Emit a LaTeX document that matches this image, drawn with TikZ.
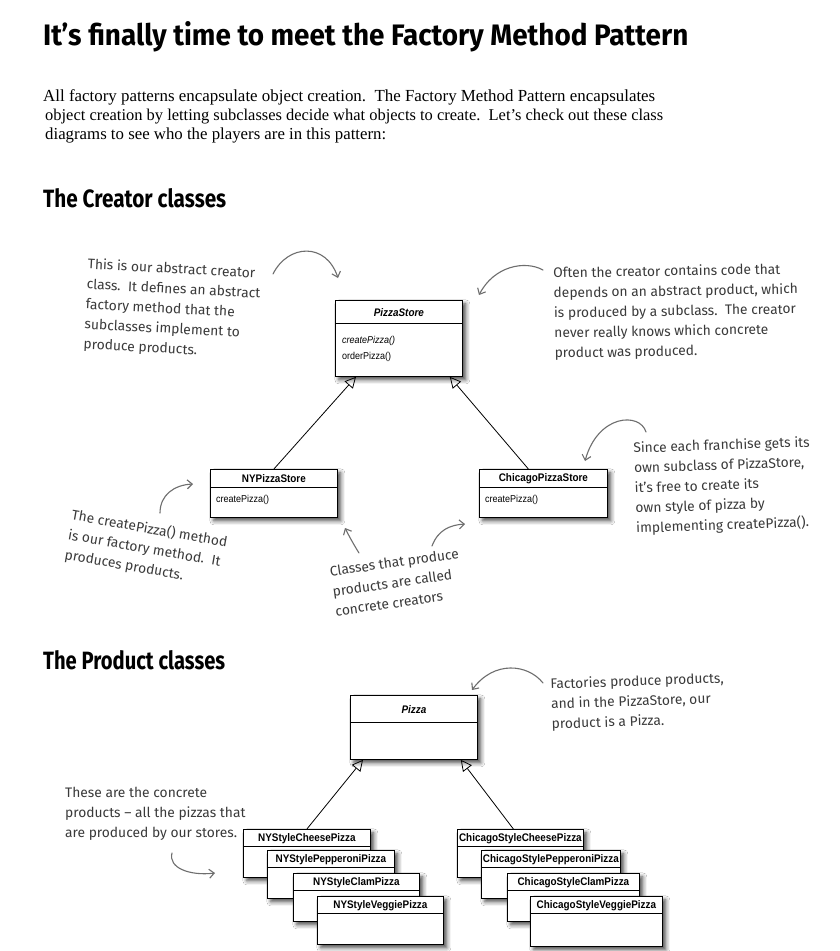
\documentclass[tikz,border=0pt]{standalone}
\usepackage{fontspec}
\setmainfont{Liberation Serif}
\newfontfamily\umlfont[FakeStretch=0.9]{Liberation Sans}
\newfontfamily\handfont{Fira Sans}
\newfontfamily\headfont{Fira Sans}
\usetikzlibrary{arrows.meta,shadows.blur,calc}
\definecolor{notecol}{HTML}{3A3A3A}
\definecolor{arrowcol}{HTML}{6E6E6E}
\tikzset{
  classbox/.style={draw=black, line width=0.8pt, fill=white, inner sep=0pt, anchor=north west,
     blur shadow={shadow xshift=3.5pt, shadow yshift=-3.5pt, shadow blur radius=4pt, shadow opacity=70}},
  sepline/.style={line width=0.7pt},
  cname/.style={font=\umlfont\bfseries\fontsize{11}{13}\selectfont, inner sep=0pt},
  cnameit/.style={font=\umlfont\bfseries\itshape\fontsize{11}{13}\selectfont, inner sep=0pt},
  cmeth/.style={font=\umlfont\fontsize{10}{12}\selectfont, inner sep=0pt, anchor=west},
  cmethit/.style={font=\umlfont\itshape\fontsize{10}{12}\selectfont, inner sep=0pt, anchor=west},
  inherit/.style={line width=0.8pt, -{Triangle[open, length=11pt, width=11pt, line width=0.8pt]}},
  note/.style={font=\handfont\fontsize{13.8}{20}\selectfont, text=notecol, align=left, inner sep=0pt, anchor=north west},
  notearrow/.style={draw=arrowcol, line width=1.1pt, line cap=round, -{Straight Barb[length=5pt, width=9pt]}},
  plain/.style={anchor=base west, inner sep=0pt},
}
% #1 name, #2 left, #3 top, #4 width, #5 height, #6 separator offset, #7 title style, #8 title
\newcommand{\umlbox}[8]{%
  \node[classbox, minimum width=#4, minimum height=#5] (#1) at (#2,#3) {};
  \draw[sepline] ($(#1.north west)+(0,#6)$) -- ($(#1.north east)+(0,#6)$);
  \node[#7] (#1-t) at ($(#1.north)+(0,#6/2+1)$) {#8};
}
\begin{document}
\begin{tikzpicture}[x=1pt,y=-1pt]
\fill[white] (0,0) rectangle (839,951);
\useasboundingbox (0,0) rectangle (839,951);

% ---------- title and paragraph ----------
\node[plain] (title) at (43,45) {\resizebox{645pt}{24pt}{\headfont\bfseries It’s finally time to meet the Factory Method Pattern}};
\node[plain, font=\fontsize{15}{18}\selectfont] (p1) at (43,101) {\resizebox{612pt}{!}{All factory patterns encapsulate object creation.\ \ The Factory Method Pattern encapsulates}};
\node[plain, font=\fontsize{15}{18}\selectfont] (p2) at (45,120.5) {\resizebox{618pt}{!}{object creation by letting subclasses decide what objects to create.\ \ Let’s check out these class}};
\node[plain, font=\fontsize{15}{18}\selectfont] (p3) at (45,139.5) {\resizebox{341pt}{!}{diagrams to see who the players are in this pattern:}};

\node[plain] (h1) at (43,207) {\resizebox{183pt}{19pt}{\headfont\bfseries The Creator classes}};
\node[plain] (h2) at (43,669) {\resizebox{182pt}{19pt}{\headfont\bfseries The Product classes}};

% ---------- creator classes ----------
\umlbox{ps}{335}{300}{127}{76}{23}{cnameit}{PizzaStore}
\node[cmethit] (ps-m1) at (342,341) {createPizza()};
\node[cmeth] (ps-m2) at (342,357) {orderPizza()};

\umlbox{ny}{210}{469}{127}{48}{18}{cname}{NYPizzaStore}
\node[cmeth] (ny-m1) at (216,500) {createPizza()};

\umlbox{chi}{479}{469}{128}{48}{18}{cname}{ChicagoPizzaStore}
\node[cmeth] (chi-m1) at (485,500) {createPizza()};

\coordinate (psL) at ($(ps.south west)+(21,0)$);
\coordinate (psR) at ($(ps.south east)+(-13,0)$);
\coordinate (chiT) at ($(chi.north)+(-15,0)$);
\draw[inherit] (ny.north) -- (psL);
\draw[inherit] (chiT) -- (psR);

% ---------- product classes ----------
\umlbox{pz}{350}{695}{127}{64}{27}{cnameit}{Pizza}

\umlbox{nyc}{243}{829}{127}{48}{17}{cname}{NYStyleCheesePizza}
\umlbox{nyp}{267}{850}{127}{48}{17}{cname}{NYStylePepperoniPizza}
\umlbox{nycl}{293}{873}{126}{48}{17}{cname}{NYStyleClamPizza}
\umlbox{nyv}{317}{896}{126}{48}{17}{cname}{NYStyleVeggiePizza}

\umlbox{chc}{457}{829}{126}{48}{17}{cname}{ChicagoStyleCheesePizza}
\umlbox{chp}{481}{850}{139}{48}{17}{cname}{ChicagoStylePepperoniPizza}
\umlbox{chcl}{507}{873}{132}{48}{17}{cname}{ChicagoStyleClamPizza}
\umlbox{chv}{530}{896}{132}{50}{17}{cname}{ChicagoStyleVeggiePizza}

\coordinate (pzL) at ($(pz.south west)+(13,0)$);
\coordinate (pzR) at ($(pz.south east)+(-17,0)$);
\coordinate (chcT) at ($(chc.north)+(-7,0)$);
\draw[inherit] (nyc.north) -- (pzL);
\draw[inherit] (chcT) -- (pzR);

% ---------- notes ----------
\node[note, rotate=-3] (n1) at (88,258) {This is our abstract creator\\class.\ \ It defines an abstract\\factory method that the\\subclasses implement to\\produce products.};
\node[note, rotate=1] (n2) at (553,267) {Often the creator contains code that\\depends on an abstract product, which\\is produced by a subclass.\ \ The creator\\never really knows which concrete\\product was produced.};
\node[note, rotate=-10] (n3) at (73,508) {The createPizza() method\\is our factory method.\ \ It\\produces products.};
\node[note, rotate=8] (n4) at (329,566) {Classes that produce\\products are called\\concrete creators};
\node[note, rotate=2] (n5) at (633,442) {Since each franchise gets its\\own subclass of PizzaStore,\\it’s free to create its\\own style of pizza by\\implementing createPizza().};
\node[note, rotate=2] (n6) at (550,678) {Factories produce products,\\and in the PizzaStore, our\\product is a Pizza.};
\node[note] (n7) at (65,787) {These are the concrete\\products – all the pizzas that\\are produced by our stores.};

% ---------- note arrows ----------
\coordinate (a1s) at (273,274); \coordinate (a1e) at (338,278);
\draw[notearrow] (a1s) .. controls (288,244) and (326,242) .. (a1e);
\coordinate (a2s) at (543,270); \coordinate (a2e) at (479,295);
\draw[notearrow] (a2s) .. controls (525,260) and (494,266) .. (a2e);
\coordinate (a3s) at (160,513); \coordinate (a3e) at (193,484);
\draw[notearrow] (a3s) .. controls (160,495) and (174,485) .. (a3e);
\coordinate (a4s) at (359,553); \coordinate (a4e) at (345,528);
\draw[notearrow] (a4s) .. controls (354,545) and (349,536) .. (a4e);
\coordinate (a5s) at (432,546); \coordinate (a5e) at (465,524);
\draw[notearrow] (a5s) .. controls (438,530) and (450,525) .. (a5e);
\coordinate (a6s) at (646,432); \coordinate (a6e) at (585,461);
\draw[notearrow] (a6s) .. controls (640,412) and (598,414) .. (a6e);
\coordinate (a7s) at (543,683); \coordinate (a7e) at (472,690);
\draw[notearrow] (a7s) .. controls (528,664) and (494,660) .. (a7e);
\coordinate (a8s) at (172,853); \coordinate (a8e) at (215,873);
\draw[notearrow] (a8s) .. controls (168,868) and (190,876) .. (a8e);
\end{tikzpicture}
\end{document}
